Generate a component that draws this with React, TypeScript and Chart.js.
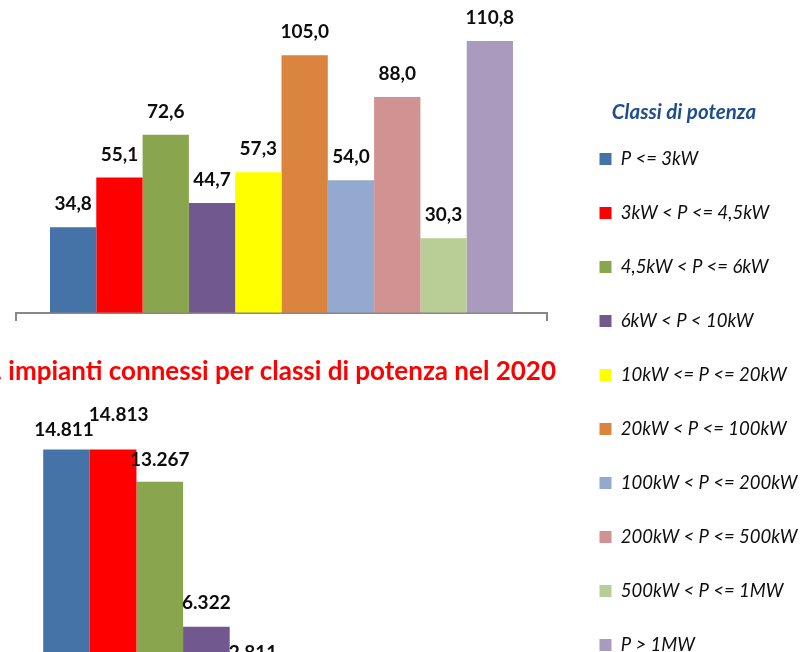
import React, { useEffect, useRef } from 'react';
import { Chart, registerables } from 'chart.js';

Chart.register(...registerables);

// ---- data ----
const yearLabels = ['2020'];
const powerClasses = [
  'P <= 3kW',
  '3kW < P <= 4,5kW',
  '4,5kW < P <= 6kW',
  '6kW < P < 10kW',
  '10kW <= P <= 20kW',
  '20kW < P <= 100kW',
  '100kW < P <= 200kW',
  '200kW < P <= 500kW',
  '500kW < P <= 1MW',
  'P > 1MW',
];
const classColors = [
  '#4572A7', '#FF0000', '#89A54E', '#71588F', '#FFFF00',
  '#DB843D', '#93A9CF', '#D19392', '#B9CD96', '#A99BBD',
];
// power connected in 2020 (MW)
const powerMW = [34.8, 55.1, 72.6, 44.7, 57.3, 105.0, 54.0, 88.0, 30.3, 110.8];
// number of plants connected in 2020 (last ones lie outside the picture: estimates)
const plantCount = [14811, 14813, 13267, 6322, 2811, 2100, 360, 250, 38, 25];
const legendTitle = 'Classi di potenza';
const bottomTitle = 'N. impianti connessi per classi di potenza nel 2020';

const FONT = 'Lato, "Open Sans", sans-serif';

const fmtPower = (v: number) => v.toFixed(1).replace('.', ',');
const fmtCount = (v: number) => String(Math.round(v)).replace(/\B(?=(\d{3})+(?!\d))/g, '.');

function labelPlugin(format: (v: number) => string, dy: number, offsets: number[][]) {
  return {
    id: 'valueLabels',
    afterDatasetsDraw(chart: any) {
      const ctx = chart.ctx;
      ctx.save();
      ctx.font = `bold 19px ${FONT}`;
      ctx.fillStyle = '#0d0d0d';
      ctx.textAlign = 'center';
      ctx.textBaseline = 'middle';
      chart.data.datasets.forEach((ds: any, i: number) => {
        const meta = chart.getDatasetMeta(i);
        meta.data.forEach((el: any, j: number) => {
          const v = ds.data[j];
          if (v == null) return;
          const off = offsets[i] || [0, dy];
          ctx.fillText(format(v), el.x + off[0], el.y - off[1]);
        });
      });
      ctx.restore();
    },
  };
}

function fixedLegendWidth(w: number) {
  return {
    id: 'fixedLegendWidth',
    beforeLayout(chart: any) {
      const lg = chart.legend;
      if (lg && !lg.__fixedW) {
        const orig = lg.fit;
        lg.fit = function () {
          orig.call(this);
          this.width = w;
        };
        lg.__fixedW = true;
      }
    },
  };
}

export default function App() {
  const topRef = useRef<HTMLCanvasElement>(null);
  const botRef = useRef<HTMLCanvasElement>(null);

  useEffect(() => {
    let charts: Chart[] = [];
    let cancelled = false;
    const fontsReady = (document as any).fonts
      ? Promise.all([
          (document as any).fonts.load(`bold 19px Lato`),
          (document as any).fonts.load(`italic 18px Lato`),
          (document as any).fonts.load(`italic bold 20px Lato`),
          (document as any).fonts.load(`bold 26px Lato`),
        ]).catch(() => null)
      : Promise.resolve(null);

    fontsReady.then(() => {
      if (cancelled || !topRef.current || !botRef.current) return;

      const top = new Chart(topRef.current, {
        type: 'bar',
        data: {
          labels: yearLabels,
          datasets: powerClasses.map((c, i) => ({
            label: c,
            data: [powerMW[i]],
            backgroundColor: classColors[i],
            borderWidth: 0,
            categoryPercentage: 0.872,
            barPercentage: 1,
          })),
        },
        options: {
          responsive: false,
          animation: false,
          events: [],
          layout: { padding: { left: 16, right: 0, top: 0, bottom: 0 } },
          scales: {
            x: {
              type: 'category',
              position: { y: 0 } as any,
              offset: true,
              grid: {
                display: true,
                offset: true,
                drawOnChartArea: false,
                drawTicks: true,
                tickLength: 7,
                color: '#888888',
                lineWidth: 2,
              },
              border: { display: true, color: '#888888', width: 2 },
              ticks: { display: false },
            },
            y: {
              type: 'linear',
              position: 'right',
              display: false,
              min: -166.3,
              max: 127.55,
              afterFit: (s: any) => {
                s.width = 17;
              },
            },
          },
          plugins: {
            legend: {
              display: true,
              position: 'right',
              align: 'start',
              labels: {
                boxWidth: 12,
                boxHeight: 12,
                padding: 35.5,
                color: '#0d0d0d',
                font: { family: FONT, size: 18.5, style: 'italic' },
              },
              title: {
                display: true,
                text: legendTitle,
                color: '#1F4E8F',
                font: { family: FONT, size: 20.5, style: 'italic', weight: 'bold' },
                padding: { top: 101.75, bottom: -12.1, left: 0, right: 0 },
              },
            },
            tooltip: { enabled: false },
            title: { display: false },
          },
        } as any,
        plugins: [labelPlugin(fmtPower, 23, []), fixedLegendWidth(240)],
      });

      const bottom = new Chart(botRef.current, {
        type: 'bar',
        data: {
          labels: yearLabels,
          datasets: powerClasses.map((c, i) => ({
            label: c,
            data: [plantCount[i]],
            backgroundColor: classColors[i],
            borderWidth: 0,
            categoryPercentage: 0.872,
            barPercentage: 1,
          })),
        },
        options: {
          responsive: false,
          animation: false,
          events: [],
          layout: { padding: 0 },
          scales: {
            x: { type: 'category', display: false, offset: true },
            y: {
              type: 'linear',
              position: 'left',
              display: false,
              min: 0,
              max: 17292,
              afterFit: (s: any) => {
                s.width = 49;
              },
            },
            yr: {
              type: 'linear',
              position: 'right',
              display: false,
              afterFit: (s: any) => {
                s.width = 12.4;
              },
            },
          },
          plugins: {
            legend: { display: false },
            tooltip: { enabled: false },
            title: {
              display: true,
              text: bottomTitle,
              align: 'end',
              color: '#FF0000',
              font: { family: FONT, size: 26, weight: 'bold' },
              padding: { top: 16.4, bottom: 10 },
            },
          },
        } as any,
        plugins: [
          labelPlugin(fmtCount, 23, [
            [-2.5, 19.3],
            [5.5, 35],
            [0, 22],
            [0, 24],
            [0, 47],
          ]),
        ],
      });

      charts = [top, bottom];
    });

    return () => {
      cancelled = true;
      charts.forEach((c) => c.destroy());
      charts = [];
    };
  }, []);

  return (
    <div
      style={{
        position: 'absolute',
        left: 0,
        top: 0,
        width: 804,
        height: 652,
        overflow: 'hidden',
        background: '#ffffff',
      }}
    >
      <canvas
        ref={botRef}
        width={596}
        height={419}
        style={{ position: 'absolute', left: -40, top: 340, display: 'block' }}
      />
      <canvas
        ref={topRef}
        width={804}
        height={720}
        style={{ position: 'absolute', left: 0, top: 0, display: 'block' }}
      />
    </div>
  );
}
